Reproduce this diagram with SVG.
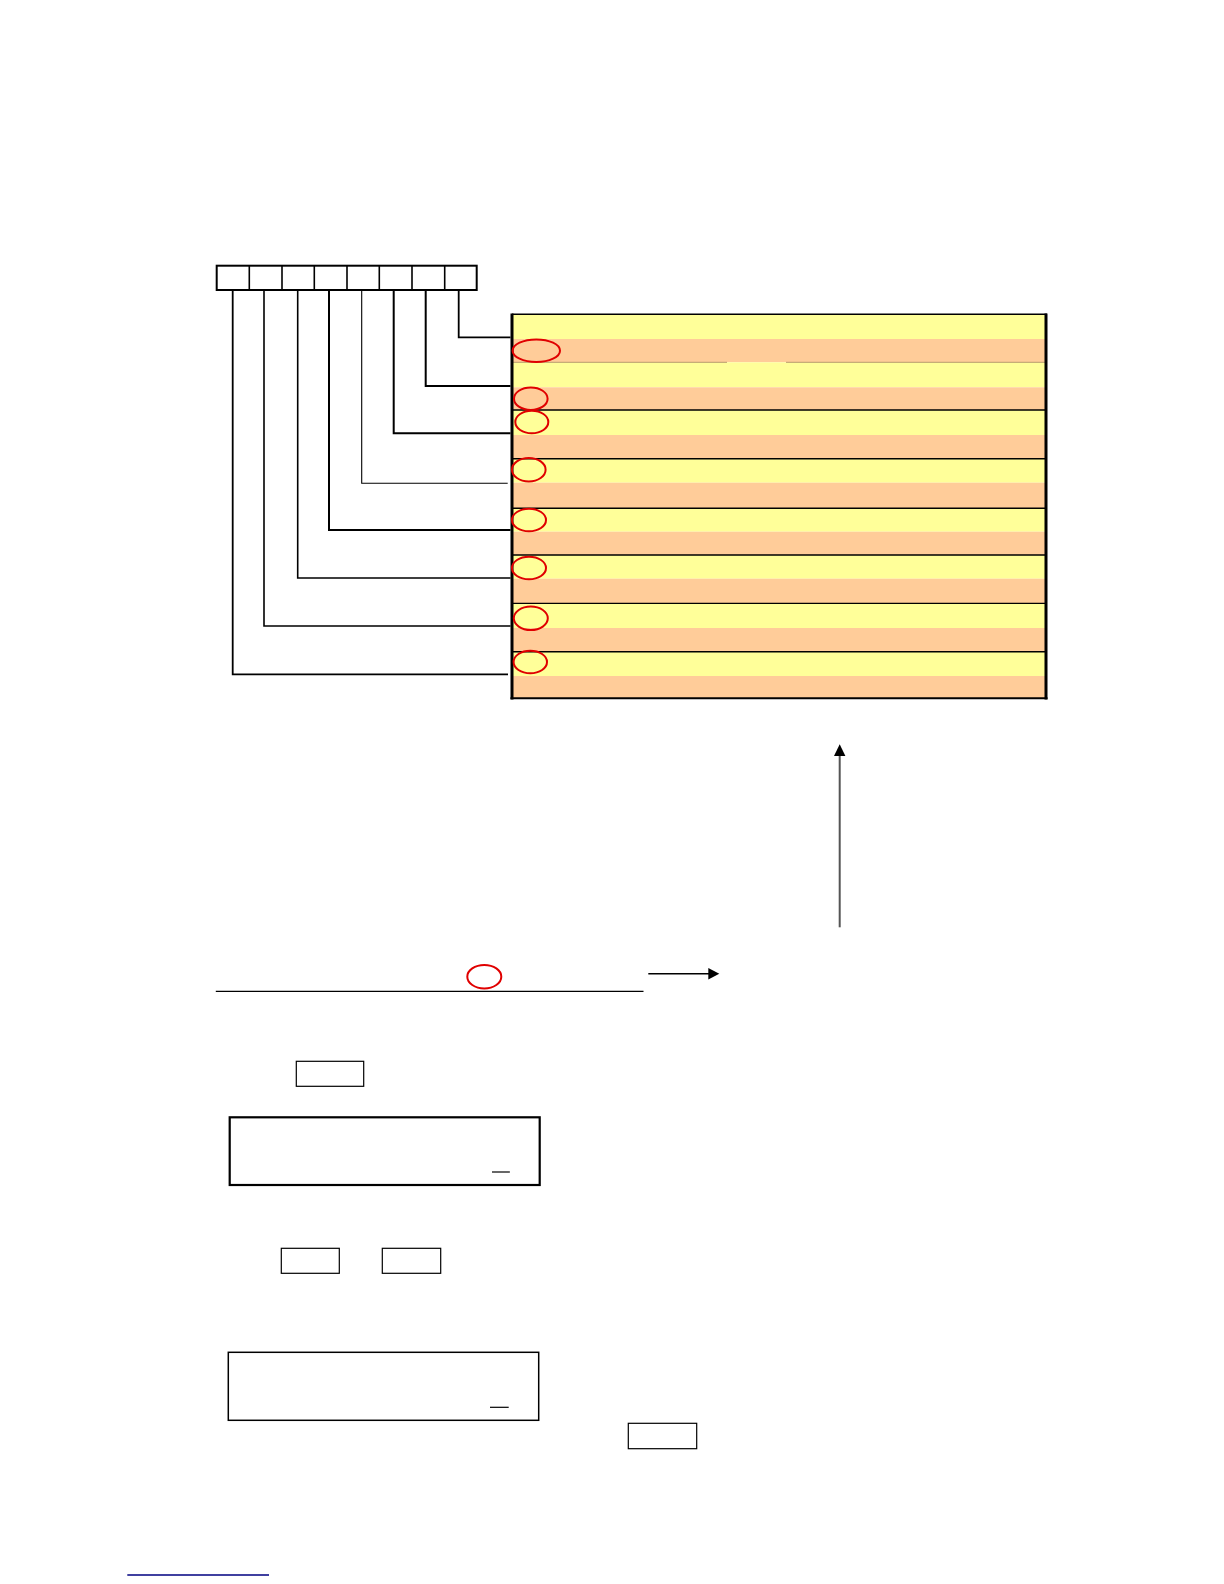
<svg xmlns="http://www.w3.org/2000/svg" width="1224" height="1584" viewBox="0 0 1224 1584">
<style>
.y{fill:#FFFF99}
.o{fill:#FFCC99}
.sep{stroke:#000;stroke-width:1.6}
.ell{fill:none;stroke:#E00000;stroke-width:2}
.conn{fill:none;stroke:#000;stroke-linejoin:miter}
.box{fill:#fff;stroke:#000}
</style>
<rect width="1224" height="1584" fill="#fff"/>

<g id="register">
<rect x="216.7" y="265.7" width="260" height="24.3" class="box" stroke-width="2"/>
<path d="M249.3,265.7V290M282,265.7V290M314.3,265.7V290M347,265.7V290M379.3,265.7V290M412,265.7V290M444.7,265.7V290" stroke="#000" stroke-width="1.6"/>
</g>

<g id="chart">
<rect x="513" y="314.3" width="532" height="24.7" class="y"/>
<rect x="513" y="339" width="532" height="23.3" class="o"/>
<rect x="513" y="362.3" width="532" height="25" class="y"/>
<rect x="513" y="387.3" width="532" height="22.7" class="o"/>
<rect x="513" y="410" width="532" height="25" class="y"/>
<rect x="513" y="435" width="532" height="23.7" class="o"/>
<rect x="513" y="458.7" width="532" height="24" class="y"/>
<rect x="513" y="482.7" width="532" height="25.6" class="o"/>
<rect x="513" y="508.3" width="532" height="23.4" class="y"/>
<rect x="513" y="531.7" width="532" height="23.3" class="o"/>
<rect x="513" y="555" width="532" height="23.7" class="y"/>
<rect x="513" y="578.7" width="532" height="24.6" class="o"/>
<rect x="513" y="603.3" width="532" height="24.7" class="y"/>
<rect x="513" y="628" width="532" height="23.7" class="o"/>
<rect x="513" y="651.7" width="532" height="24.3" class="y"/>
<rect x="513" y="676" width="532" height="22.3" class="o"/>
<path d="M513,362.3H727M786,362.3H1045" stroke="#B89A6A" stroke-width="1"/>
<path d="M513,410H1045M513,458.7H1045M513,508.3H1045M513,555H1045M513,651.7H1045" class="sep"/>
<path d="M513,603.3H1045" stroke="#000" stroke-width="1.2"/>
<path d="M512,314.3H1047" stroke="#000" stroke-width="1.6"/>
<path d="M510.5,698.3H1047.5" stroke="#000" stroke-width="2"/>
<path d="M512,313.5V699.5" stroke="#000" stroke-width="3"/>
<path d="M1046,313.5V699.5" stroke="#000" stroke-width="3"/>
</g>

<g id="markers">
<ellipse cx="536.3" cy="350.7" rx="23.7" ry="11.3" class="ell"/>
<ellipse cx="530.8" cy="398.7" rx="16.8" ry="11.3" class="ell"/>
<ellipse cx="531.8" cy="422" rx="16.5" ry="11.3" class="ell"/>
<ellipse cx="528.8" cy="469.7" rx="16.8" ry="11.7" class="ell"/>
<ellipse cx="529" cy="520" rx="17" ry="11.3" class="ell"/>
<ellipse cx="529" cy="568" rx="17" ry="11.3" class="ell"/>
<ellipse cx="530.8" cy="618.3" rx="17" ry="11.7" class="ell"/>
<ellipse cx="530.3" cy="662" rx="16.7" ry="11.3" class="ell"/>
<ellipse cx="484.3" cy="976.7" rx="17" ry="11.7" class="ell"/>
</g>

<g id="connectors">
<path d="M458.7,290V337.3H510.5" class="conn" stroke-width="1.8"/>
<path d="M425.7,290V386H510.5" class="conn" stroke-width="2"/>
<path d="M393.7,290V433.3H510.5" class="conn" stroke-width="2"/>
<path d="M361.7,290V483.3H507.7" class="conn" stroke-width="1.1"/>
<path d="M329,290V530H510.5" class="conn" stroke-width="2"/>
<path d="M297.7,290V578H510.5" class="conn" stroke-width="1.6"/>
<path d="M264,290V626H510.5" class="conn" stroke-width="1.6"/>
<path d="M232.7,290V674.3H508" class="conn" stroke-width="1.8"/>
<path d="M839.7,927.3V754" stroke="#555" stroke-width="2" fill="none"/>
<path d="M834,756L839.7,744.3L845.4,756Z" fill="#000"/>
<path d="M648.3,973.7H709" stroke="#000" stroke-width="1.6" fill="none"/>
<path d="M708.3,967.9L719.3,973.7L708.3,979.5Z" fill="#000"/>
</g>

<g id="underline">
<path d="M215.8,991.3H643.5" stroke="#000" stroke-width="1.2"/>
</g>

<g id="key1">
<rect x="296.3" y="1061.3" width="67.4" height="25" class="box" stroke-width="1.2"/>
</g>

<g id="display1">
<rect x="229.7" y="1117.3" width="310" height="67.7" class="box" stroke-width="2.2"/>
<path d="M492,1172H510" stroke="#000" stroke-width="1.2"/>
</g>

<g id="key2">
<rect x="281.3" y="1248.3" width="58" height="25" class="box" stroke-width="1.2"/>
</g>
<g id="key3">
<rect x="382.3" y="1248.3" width="58.4" height="25" class="box" stroke-width="1.2"/>
</g>

<g id="display2">
<rect x="228.3" y="1352.3" width="310.4" height="68" class="box" stroke-width="1.5"/>
<path d="M490,1407.3H508.7" stroke="#000" stroke-width="1.2"/>
</g>

<g id="key4">
<rect x="628.3" y="1423.3" width="68.4" height="25.4" class="box" stroke-width="1.2"/>
</g>

<g id="link">
<path d="M127.3,1575H269" stroke="#000080" stroke-width="1.5"/>
</g>
</svg>
